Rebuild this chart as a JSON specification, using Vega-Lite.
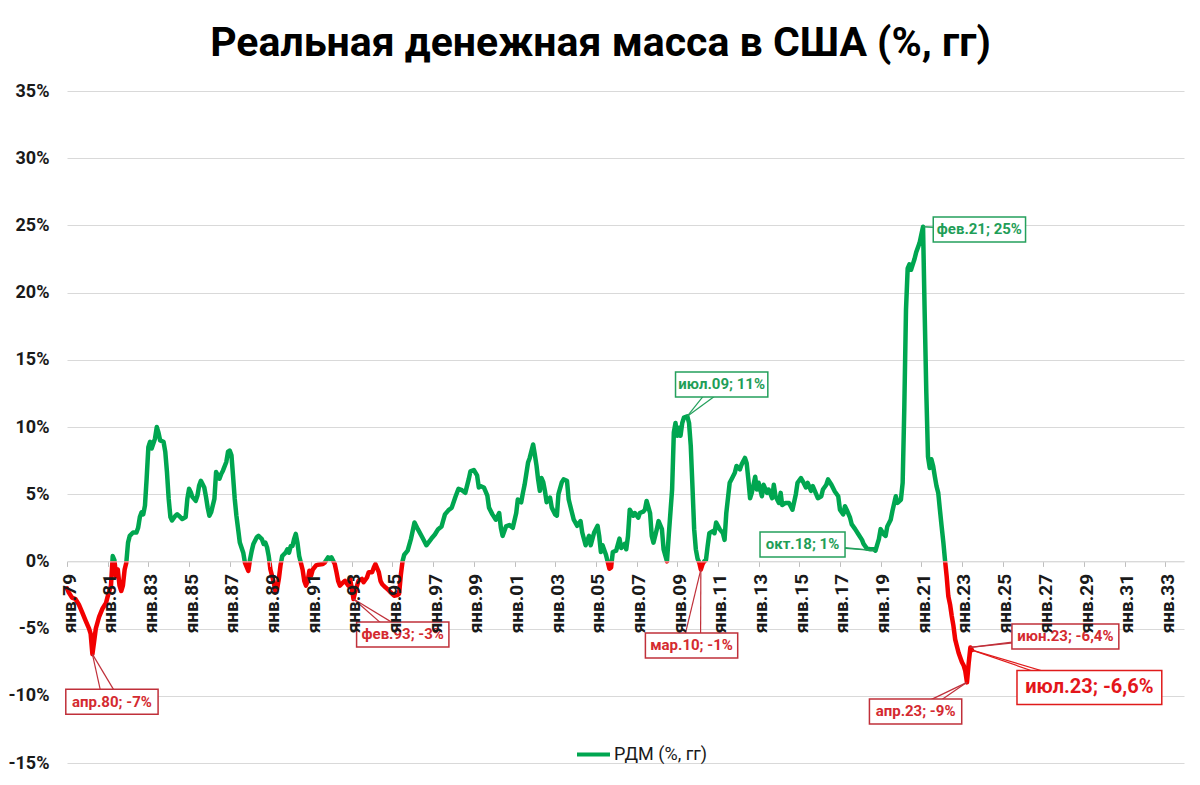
{
  "$schema": "https://vega.github.io/schema/vega-lite/v6.json",
  "width": 1117,
  "height": 672,
  "autosize": {"type": "none"},
  "padding": {"left": 67, "top": 91, "right": 16, "bottom": 22},
  "background": "white",
  "config": {"font": "Roboto", "view": {"stroke": null}},
  "title": {"text": "Реальная денежная масса в США (%, гг)", "font": "Roboto", "fontSize": 41, "fontWeight": "bold", "color": "#000000", "anchor": "middle", "dx": -25, "offset": 17},
  "datasets": {
    "series": [
      {"d":"1979-01-01","v":-2.0},{"d":"1979-02-01","v":-2.3},{"d":"1979-04-01","v":-2.7},{"d":"1979-06-01","v":-2.8},{"d":"1979-08-01","v":-3.2},{"d":"1979-10-01","v":-3.8},{"d":"1979-12-01","v":-4.4},
      {"d":"1980-02-01","v":-5.0},{"d":"1980-03-01","v":-5.4},{"d":"1980-04-01","v":-6.9},{"d":"1980-05-01","v":-6.0},{"d":"1980-06-01","v":-5.0},{"d":"1980-08-01","v":-4.1},{"d":"1980-10-01","v":-3.5},{"d":"1980-12-01","v":-3.1},
      {"d":"1981-01-01","v":-2.6},{"d":"1981-03-01","v":-1.8},{"d":"1981-04-01","v":0.4},{"d":"1981-05-01","v":0.1},{"d":"1981-06-01","v":-1.1},{"d":"1981-07-01","v":-0.6},{"d":"1981-08-01","v":-1.8},{"d":"1981-09-01","v":-2.2},{"d":"1981-10-01","v":-1.8},{"d":"1981-11-01","v":-0.6},{"d":"1981-12-01","v":-0.1},
      {"d":"1982-01-01","v":1.4},{"d":"1982-02-01","v":1.9},{"d":"1982-04-01","v":2.15},{"d":"1982-06-01","v":2.15},{"d":"1982-07-01","v":2.5},{"d":"1982-08-01","v":3.3},{"d":"1982-09-01","v":3.65},{"d":"1982-10-01","v":3.5},{"d":"1982-11-01","v":4.15},{"d":"1982-12-01","v":6.15},
      {"d":"1983-01-01","v":8.5},{"d":"1983-02-01","v":8.9},{"d":"1983-03-01","v":8.4},{"d":"1983-05-01","v":9.15},{"d":"1983-06-01","v":10.0},{"d":"1983-07-01","v":9.6},{"d":"1983-08-01","v":9.0},{"d":"1983-10-01","v":8.9},{"d":"1983-11-01","v":8.15},{"d":"1983-12-01","v":6.65},
      {"d":"1984-01-01","v":4.65},{"d":"1984-02-01","v":3.3},{"d":"1984-03-01","v":3.05},{"d":"1984-05-01","v":3.4},{"d":"1984-06-01","v":3.5},{"d":"1984-07-01","v":3.4},{"d":"1984-09-01","v":3.15},{"d":"1984-11-01","v":3.3},{"d":"1984-12-01","v":4.65},
      {"d":"1985-01-01","v":5.4},{"d":"1985-02-01","v":5.15},{"d":"1985-03-01","v":4.8},{"d":"1985-05-01","v":4.5},{"d":"1985-06-01","v":4.9},{"d":"1985-07-01","v":5.65},{"d":"1985-08-01","v":6.0},{"d":"1985-10-01","v":5.5},{"d":"1985-11-01","v":4.8},{"d":"1985-12-01","v":4.0},
      {"d":"1986-01-01","v":3.4},{"d":"1986-02-01","v":3.65},{"d":"1986-04-01","v":4.65},{"d":"1986-05-01","v":6.65},{"d":"1986-06-01","v":6.4},{"d":"1986-07-01","v":6.15},{"d":"1986-08-01","v":6.5},{"d":"1986-09-01","v":6.75},{"d":"1986-11-01","v":7.4},{"d":"1986-12-01","v":8.15},
      {"d":"1987-01-01","v":8.25},{"d":"1987-02-01","v":7.9},{"d":"1987-03-01","v":6.4},{"d":"1987-04-01","v":4.65},{"d":"1987-05-01","v":3.4},{"d":"1987-06-01","v":2.4},{"d":"1987-07-01","v":1.4},{"d":"1987-09-01","v":0.65},{"d":"1987-10-01","v":-0.1},{"d":"1987-12-01","v":-0.7},
      {"d":"1988-01-01","v":0.15},{"d":"1988-02-01","v":0.8},{"d":"1988-03-01","v":1.3},{"d":"1988-05-01","v":1.8},{"d":"1988-06-01","v":1.9},{"d":"1988-08-01","v":1.65},{"d":"1988-09-01","v":1.3},{"d":"1988-10-01","v":1.4},{"d":"1988-11-01","v":1.05},{"d":"1988-12-01","v":0.4},
      {"d":"1989-01-01","v":-0.6},{"d":"1989-03-01","v":-1.55},{"d":"1989-04-01","v":-2.2},{"d":"1989-05-01","v":-2.05},{"d":"1989-06-01","v":-1.3},{"d":"1989-07-01","v":-0.3},{"d":"1989-08-01","v":0.4},{"d":"1989-10-01","v":0.65},{"d":"1989-11-01","v":0.9},{"d":"1989-12-01","v":0.65},
      {"d":"1990-01-01","v":1.15},{"d":"1990-02-01","v":1.15},{"d":"1990-03-01","v":1.65},{"d":"1990-04-01","v":2.05},{"d":"1990-05-01","v":1.4},{"d":"1990-06-01","v":0.4},{"d":"1990-08-01","v":-0.6},{"d":"1990-09-01","v":-1.45},{"d":"1990-10-01","v":-1.8},{"d":"1990-11-01","v":-1.45},{"d":"1990-12-01","v":-0.7},
      {"d":"1991-01-01","v":-1.05},{"d":"1991-02-01","v":-0.6},{"d":"1991-04-01","v":-0.3},{"d":"1991-05-01","v":-0.25},{"d":"1991-08-01","v":-0.2},{"d":"1991-09-01","v":-0.1},{"d":"1991-11-01","v":0.3},{"d":"1991-12-01","v":0.2},
      {"d":"1992-01-01","v":0.3},{"d":"1992-03-01","v":-0.2},{"d":"1992-04-01","v":-0.8},{"d":"1992-05-01","v":-1.45},{"d":"1992-06-01","v":-1.8},{"d":"1992-08-01","v":-1.55},{"d":"1992-09-01","v":-1.45},{"d":"1992-11-01","v":-1.8},{"d":"1992-12-01","v":-1.3},
      {"d":"1993-01-01","v":-2.0},{"d":"1993-02-01","v":-2.8},{"d":"1993-03-01","v":-2.3},{"d":"1993-05-01","v":-1.45},{"d":"1993-07-01","v":-1.3},{"d":"1993-08-01","v":-1.55},{"d":"1993-10-01","v":-1.2},{"d":"1993-11-01","v":-0.8},
      {"d":"1994-01-01","v":-0.8},{"d":"1994-02-01","v":-0.45},{"d":"1994-03-01","v":-0.2},{"d":"1994-05-01","v":-0.8},{"d":"1994-06-01","v":-1.45},{"d":"1994-07-01","v":-1.7},{"d":"1994-09-01","v":-1.95},{"d":"1994-10-01","v":-2.05},{"d":"1994-12-01","v":-2.3},
      {"d":"1995-02-01","v":-2.55},{"d":"1995-04-01","v":-2.5},{"d":"1995-05-01","v":-2.4},{"d":"1995-06-01","v":-1.0},{"d":"1995-07-01","v":0.0},{"d":"1995-08-01","v":0.5},{"d":"1995-10-01","v":0.8},{"d":"1995-12-01","v":1.7},
      {"d":"1996-02-01","v":2.9},{"d":"1996-04-01","v":2.4},{"d":"1996-07-01","v":1.7},{"d":"1996-09-01","v":1.2},{"d":"1996-12-01","v":1.7},
      {"d":"1997-02-01","v":2.0},{"d":"1997-04-01","v":2.4},{"d":"1997-06-01","v":2.6},{"d":"1997-08-01","v":3.5},{"d":"1997-10-01","v":3.8},{"d":"1997-12-01","v":4.0},
      {"d":"1998-02-01","v":4.75},{"d":"1998-04-01","v":5.4},{"d":"1998-06-01","v":5.3},{"d":"1998-08-01","v":5.1},{"d":"1998-10-01","v":6.1},{"d":"1998-11-01","v":6.7},
      {"d":"1999-01-01","v":6.8},{"d":"1999-03-01","v":6.4},{"d":"1999-04-01","v":5.5},{"d":"1999-05-01","v":5.6},{"d":"1999-07-01","v":5.5},{"d":"1999-09-01","v":4.9},{"d":"1999-10-01","v":4.0},{"d":"1999-12-01","v":3.5},
      {"d":"2000-02-01","v":3.1},{"d":"2000-04-01","v":3.6},{"d":"2000-05-01","v":2.5},{"d":"2000-06-01","v":1.9},{"d":"2000-08-01","v":2.6},{"d":"2000-10-01","v":2.7},{"d":"2000-12-01","v":2.5},
      {"d":"2001-02-01","v":3.6},{"d":"2001-03-01","v":4.6},{"d":"2001-05-01","v":4.4},{"d":"2001-06-01","v":5.1},{"d":"2001-07-01","v":5.7},{"d":"2001-09-01","v":7.35},{"d":"2001-10-01","v":7.7},{"d":"2001-12-01","v":8.7},
      {"d":"2002-01-01","v":7.95},{"d":"2002-02-01","v":7.1},{"d":"2002-03-01","v":6.1},{"d":"2002-04-01","v":5.25},{"d":"2002-05-01","v":6.2},{"d":"2002-06-01","v":5.9},{"d":"2002-07-01","v":5.25},{"d":"2002-08-01","v":4.4},{"d":"2002-10-01","v":4.75},{"d":"2002-11-01","v":4.0},
      {"d":"2003-01-01","v":3.5},{"d":"2003-02-01","v":3.4},{"d":"2003-03-01","v":5.0},{"d":"2003-05-01","v":5.9},{"d":"2003-06-01","v":6.1},{"d":"2003-08-01","v":6.0},{"d":"2003-09-01","v":4.6},{"d":"2003-10-01","v":4.1},{"d":"2003-12-01","v":3.1},
      {"d":"2004-02-01","v":2.65},{"d":"2004-04-01","v":3.0},{"d":"2004-05-01","v":2.15},{"d":"2004-07-01","v":1.2},{"d":"2004-09-01","v":1.9},{"d":"2004-10-01","v":1.2},{"d":"2004-12-01","v":2.15},
      {"d":"2005-02-01","v":2.65},{"d":"2005-03-01","v":1.9},{"d":"2005-04-01","v":0.7},{"d":"2005-05-01","v":1.2},{"d":"2005-07-01","v":0.5},{"d":"2005-09-01","v":-0.55},{"d":"2005-10-01","v":-0.45},{"d":"2005-11-01","v":0.7},
      {"d":"2006-01-01","v":0.8},{"d":"2006-03-01","v":1.7},{"d":"2006-04-01","v":1.0},{"d":"2006-06-01","v":1.3},{"d":"2006-07-01","v":0.9},{"d":"2006-08-01","v":1.9},{"d":"2006-09-01","v":3.85},{"d":"2006-11-01","v":3.4},{"d":"2006-12-01","v":3.6},
      {"d":"2007-02-01","v":3.25},{"d":"2007-03-01","v":3.6},{"d":"2007-05-01","v":3.7},{"d":"2007-06-01","v":3.85},{"d":"2007-07-01","v":4.5},{"d":"2007-09-01","v":3.6},{"d":"2007-10-01","v":1.9},{"d":"2007-11-01","v":1.4},
      {"d":"2008-01-01","v":2.4},{"d":"2008-02-01","v":3.0},{"d":"2008-04-01","v":2.4},{"d":"2008-05-01","v":0.9},{"d":"2008-07-01","v":0.0},{"d":"2008-08-01","v":1.9},{"d":"2008-10-01","v":5.35},{"d":"2008-11-01","v":9.6},{"d":"2008-12-01","v":10.3},
      {"d":"2009-01-01","v":9.35},{"d":"2009-02-01","v":9.95},{"d":"2009-03-01","v":9.35},{"d":"2009-04-01","v":10.3},{"d":"2009-05-01","v":10.7},{"d":"2009-07-01","v":10.8},{"d":"2009-08-01","v":10.3},{"d":"2009-09-01","v":8.6},{"d":"2009-10-01","v":5.6},{"d":"2009-11-01","v":2.4},{"d":"2009-12-01","v":0.9},
      {"d":"2010-01-01","v":0.2},{"d":"2010-02-01","v":-0.1},{"d":"2010-03-01","v":-0.6},{"d":"2010-04-01","v":-0.2},{"d":"2010-05-01","v":0.0},{"d":"2010-06-01","v":0.1},{"d":"2010-07-01","v":1.15},{"d":"2010-08-01","v":2.1},{"d":"2010-10-01","v":2.25},{"d":"2010-11-01","v":2.1},{"d":"2010-12-01","v":2.9},
      {"d":"2011-02-01","v":2.4},{"d":"2011-04-01","v":2.1},{"d":"2011-05-01","v":1.6},{"d":"2011-06-01","v":3.6},{"d":"2011-08-01","v":5.85},{"d":"2011-09-01","v":6.1},{"d":"2011-11-01","v":6.6},{"d":"2011-12-01","v":7.1},
      {"d":"2012-02-01","v":6.85},{"d":"2012-03-01","v":7.2},{"d":"2012-05-01","v":7.7},{"d":"2012-06-01","v":7.3},{"d":"2012-07-01","v":6.1},{"d":"2012-08-01","v":4.7},{"d":"2012-09-01","v":5.1},{"d":"2012-11-01","v":6.3},{"d":"2012-12-01","v":5.35},
      {"d":"2013-01-01","v":5.85},{"d":"2013-03-01","v":4.85},{"d":"2013-04-01","v":5.7},{"d":"2013-06-01","v":5.1},{"d":"2013-07-01","v":5.35},{"d":"2013-09-01","v":4.7},{"d":"2013-10-01","v":5.7},{"d":"2013-11-01","v":4.85},
      {"d":"2014-01-01","v":4.35},{"d":"2014-02-01","v":5.1},{"d":"2014-03-01","v":4.2},{"d":"2014-05-01","v":4.35},{"d":"2014-07-01","v":4.35},{"d":"2014-09-01","v":3.85},{"d":"2014-11-01","v":5.0},{"d":"2014-12-01","v":5.85},
      {"d":"2015-02-01","v":6.2},{"d":"2015-03-01","v":6.0},{"d":"2015-05-01","v":5.5},{"d":"2015-06-01","v":5.85},{"d":"2015-08-01","v":5.25},{"d":"2015-09-01","v":5.6},{"d":"2015-11-01","v":5.0},{"d":"2015-12-01","v":4.7},
      {"d":"2016-02-01","v":4.85},{"d":"2016-03-01","v":5.35},{"d":"2016-05-01","v":5.7},{"d":"2016-06-01","v":6.1},{"d":"2016-08-01","v":5.7},{"d":"2016-10-01","v":5.2},{"d":"2016-12-01","v":4.85},
      {"d":"2017-01-01","v":3.85},{"d":"2017-03-01","v":3.5},{"d":"2017-04-01","v":4.1},{"d":"2017-05-01","v":3.85},{"d":"2017-07-01","v":3.25},{"d":"2017-08-01","v":2.75},{"d":"2017-10-01","v":2.4},{"d":"2017-12-01","v":2.0},
      {"d":"2018-02-01","v":1.6},{"d":"2018-03-01","v":1.3},{"d":"2018-05-01","v":0.95},{"d":"2018-07-01","v":0.9},{"d":"2018-09-01","v":0.9},{"d":"2018-10-01","v":0.8},{"d":"2018-12-01","v":1.65},
      {"d":"2019-01-01","v":2.4},{"d":"2019-03-01","v":2.0},{"d":"2019-04-01","v":1.9},{"d":"2019-05-01","v":2.6},{"d":"2019-07-01","v":3.1},{"d":"2019-08-01","v":3.75},{"d":"2019-10-01","v":4.85},{"d":"2019-11-01","v":4.35},
      {"d":"2020-01-01","v":4.6},{"d":"2020-02-01","v":5.85},{"d":"2020-03-01","v":11.3},{"d":"2020-04-01","v":18.75},{"d":"2020-05-01","v":21.8},{"d":"2020-06-01","v":22.1},{"d":"2020-07-01","v":21.7},{"d":"2020-08-01","v":22.1},{"d":"2020-09-01","v":22.5},{"d":"2020-10-01","v":23.0},{"d":"2020-12-01","v":23.7},
      {"d":"2021-01-01","v":24.3},{"d":"2021-02-01","v":24.9},{"d":"2021-03-01","v":18.75},{"d":"2021-04-01","v":12.5},{"d":"2021-05-01","v":7.8},{"d":"2021-06-01","v":6.95},{"d":"2021-07-01","v":7.6},{"d":"2021-08-01","v":7.1},{"d":"2021-09-01","v":6.3},{"d":"2021-10-01","v":5.6},{"d":"2021-11-01","v":5.1},{"d":"2021-12-01","v":3.85},
      {"d":"2022-01-01","v":2.6},{"d":"2022-02-01","v":1.4},{"d":"2022-03-01","v":0.15},{"d":"2022-04-01","v":-1.1},{"d":"2022-05-01","v":-2.6},{"d":"2022-06-01","v":-3.2},{"d":"2022-07-01","v":-4.05},{"d":"2022-08-01","v":-4.8},{"d":"2022-09-01","v":-5.8},{"d":"2022-10-01","v":-6.3},{"d":"2022-11-01","v":-6.8},{"d":"2022-12-01","v":-7.15},
      {"d":"2023-01-01","v":-7.5},{"d":"2023-02-01","v":-7.75},{"d":"2023-03-01","v":-8.15},{"d":"2023-04-01","v":-9.0},{"d":"2023-05-01","v":-7.6},{"d":"2023-06-01","v":-6.4},{"d":"2023-07-01","v":-6.6}
    ],
    "notes": [
      {"label":"апр.80; -7%","ld":"1981-03-18","lv":-10.45,"pd":"1980-04-01","pv":-6.9,"kind":"neg"},
      {"label":"фев.93; -3%","ld":"1995-07-05","lv":-5.43,"pd":"1993-02-01","pv":-2.8,"kind":"neg"},
      {"label":"июл.09; 11%","ld":"2011-03-10","lv":13.17,"pd":"2009-07-01","pv":10.8,"kind":"pos"},
      {"label":"мар.10; -1%","ld":"2009-09-15","lv":-6.25,"pd":"2010-03-01","pv":-0.6,"kind":"neg"},
      {"label":"окт.18; 1%","ld":"2015-03-01","lv":1.26,"pd":"2018-10-01","pv":0.8,"kind":"pos"},
      {"label":"фев.21; 25%","ld":"2023-11-10","lv":24.7,"pd":"2021-02-01","pv":24.9,"kind":"pos"},
      {"label":"апр.23; -9%","ld":"2020-09-20","lv":-11.16,"pd":"2023-04-01","pv":-9.0,"kind":"neg"},
      {"label":"июн.23; -6,4%","ld":"2028-02-01","lv":-5.58,"pd":"2023-06-01","pv":-6.4,"kind":"neg"},
      {"label":"июл.23; -6,6%","ld":"2029-04-07","lv":-9.38,"pd":"2023-07-01","pv":-6.6,"kind":"latest"}
    ]
  },
  "layer": [
    {
      "data": {"name": "series"},
      "mark": {"type": "line", "strokeWidth": 4.5, "strokeJoin": "round", "strokeCap": "round",
        "stroke": {"gradient": "linear", "x1": 0, "y1": 0, "x2": 0, "y2": 1,
          "stops": [{"offset": 0, "color": "#00a650"}, {"offset": 0.7345, "color": "#00a650"}, {"offset": 0.7345, "color": "#f20000"}, {"offset": 1, "color": "#f20000"}]}},
      "encoding": {
        "x": {"field": "d", "type": "temporal", "title": null,
          "scale": {"type": "utc", "domain": ["1979-01-01", "2033-12-01"], "nice": false},
          "axis": {
            "values": [{"year":1979,"utc":true},{"year":1981,"utc":true},{"year":1983,"utc":true},{"year":1985,"utc":true},{"year":1987,"utc":true},{"year":1989,"utc":true},{"year":1991,"utc":true},{"year":1993,"utc":true},{"year":1995,"utc":true},{"year":1997,"utc":true},{"year":1999,"utc":true},{"year":2001,"utc":true},{"year":2003,"utc":true},{"year":2005,"utc":true},{"year":2007,"utc":true},{"year":2009,"utc":true},{"year":2011,"utc":true},{"year":2013,"utc":true},{"year":2015,"utc":true},{"year":2017,"utc":true},{"year":2019,"utc":true},{"year":2021,"utc":true},{"year":2023,"utc":true},{"year":2025,"utc":true},{"year":2027,"utc":true},{"year":2029,"utc":true},{"year":2031,"utc":true},{"year":2033,"utc":true}],
            "labelExpr": "'янв.' + utcFormat(datum.value, '%y')",
            "labelAngle": 270, "labelAlign": "right", "labelBaseline": "middle",
            "labelFont": "Roboto", "labelFontSize": 19, "labelFontWeight": "bold", "labelColor": "#1a1a1a",
            "labelPadding": 7, "labelOffset": 2, "labelOverlap": false, "labelFlush": false,
            "tickSize": 5, "tickColor": "#bfbfbf", "domainColor": "#d9d9d9",
            "grid": false, "title": null, "offset": -201.6, "zindex": 1
          }},
        "y": {"field": "v", "type": "quantitative", "title": null,
          "scale": {"domain": [-15, 35], "nice": false, "zero": false},
          "axis": {
            "values": [-15, -10, -5, 0, 5, 10, 15, 20, 25, 30, 35],
            "labelExpr": "datum.value + '%'",
            "labelFont": "Roboto", "labelFontSize": 18, "labelFontWeight": "bold", "labelColor": "#1a1a1a",
            "labelPadding": 18, "ticks": false, "domain": false,
            "grid": true, "gridColor": "#d9d9d9", "gridWidth": 1, "title": null
          }}
      }
    },
    {
      "data": {"name": "notes"},
      "mark": {"type": "rule", "strokeWidth": 1.2, "x2Offset": -9},
      "encoding": {
        "x": {"field": "pd", "type": "temporal", "title": null},
        "y": {"field": "pv", "type": "quantitative", "title": null},
        "x2": {"field": "ld"},
        "y2": {"field": "lv"},
        "stroke": {"field": "kind", "type": "nominal", "scale": {"domain": ["neg", "pos", "latest"], "range": ["#c0303a", "#24a05c", "#e01b1b"]}, "legend": null}
      }
    },
    {
      "data": {"name": "notes"},
      "mark": {"type": "rule", "strokeWidth": 1.2, "x2Offset": 9},
      "encoding": {
        "x": {"field": "pd", "type": "temporal", "title": null},
        "y": {"field": "pv", "type": "quantitative", "title": null},
        "x2": {"field": "ld"},
        "y2": {"field": "lv"},
        "stroke": {"field": "kind", "type": "nominal", "legend": null}
      }
    },
    {
      "data": {"name": "notes"},
      "mark": {"type": "rect", "fill": "white", "strokeWidth": 1.5,
        "xOffset": {"expr": "-((datum.kind == 'latest' ? 4.8 : 3.65) * length(datum.label) + (datum.kind == 'latest' ? 10 : 6))"},
        "x2Offset": {"expr": "(datum.kind == 'latest' ? 4.8 : 3.65) * length(datum.label) + (datum.kind == 'latest' ? 10 : 6)"},
        "yOffset": {"expr": "datum.kind == 'latest' ? -17 : -12.5"},
        "y2Offset": {"expr": "datum.kind == 'latest' ? 17 : 12.5"}},
      "encoding": {
        "x": {"field": "ld", "type": "temporal", "title": null},
        "x2": {"field": "ld"},
        "y": {"field": "lv", "type": "quantitative", "title": null},
        "y2": {"field": "lv"},
        "stroke": {"field": "kind", "type": "nominal", "legend": null}
      }
    },
    {
      "data": {"name": "notes"},
      "mark": {"type": "text", "font": "Roboto", "fontWeight": "bold", "align": "center", "baseline": "middle",
        "fontSize": {"expr": "datum.kind == 'latest' ? 20 : 15"}},
      "encoding": {
        "x": {"field": "ld", "type": "temporal", "title": null},
        "y": {"field": "lv", "type": "quantitative", "title": null},
        "text": {"field": "label"},
        "fill": {"field": "kind", "type": "nominal", "scale": {"domain": ["neg", "pos", "latest"], "range": ["#d42a30", "#1f9e58", "#e3161b"]}, "legend": null}
      }
    },
    {
      "data": {"values": []},
      "mark": {"type": "line", "strokeWidth": 4},
      "encoding": {
        "color": {"datum": "РДМ (%, гг)", "scale": {"range": ["#00a650"]},
          "legend": {"orient": "none", "legendX": 508, "legendY": 645, "title": null, "symbolType": "stroke", "symbolSize": 1089, "symbolStrokeWidth": 4, "labelFont": "Roboto", "labelFontSize": 18, "labelColor": "#1a1a1a", "labelOffset": 2}}
      }
    }
  ]
}
